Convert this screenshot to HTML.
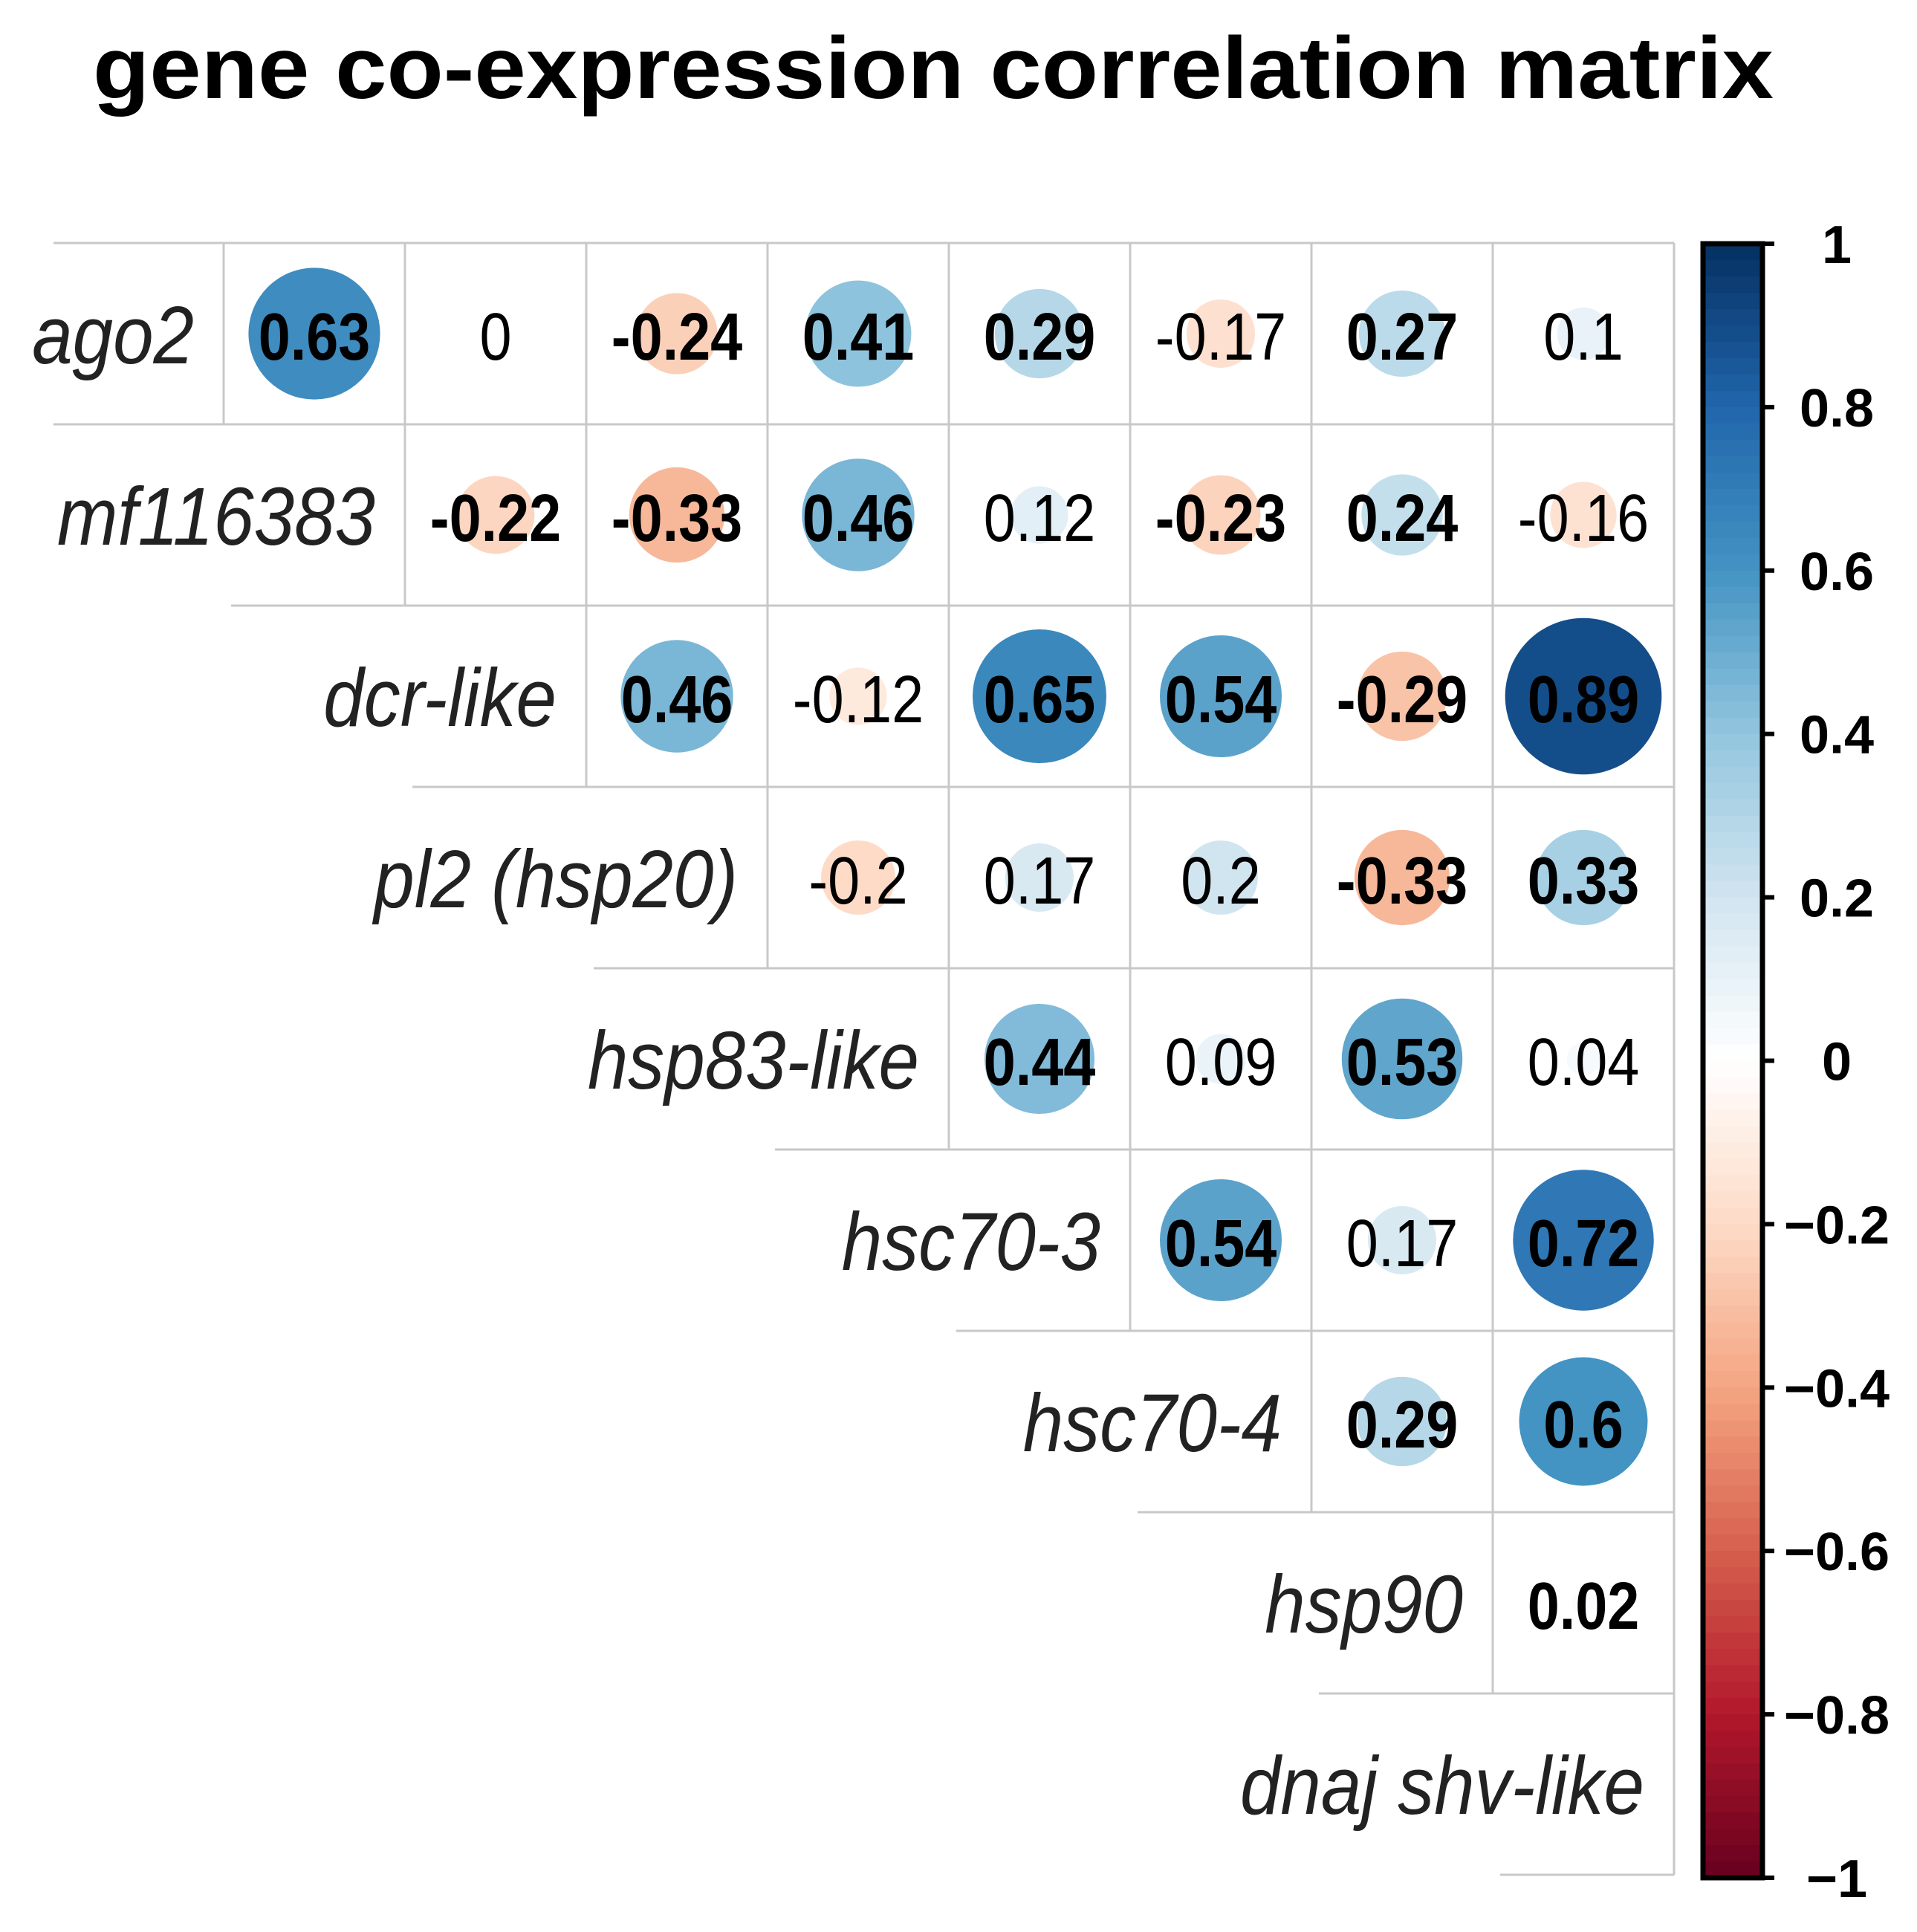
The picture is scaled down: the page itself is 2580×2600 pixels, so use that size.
<!DOCTYPE html>
<html><head><meta charset="utf-8"><style>
html,body{margin:0;padding:0;background:#fff}
svg{display:block}
</style></head><body>
<svg id="chart" width="2580" height="2600" viewBox="0 0 2580 2600" xmlns="http://www.w3.org/2000/svg">
<text x="125" y="132" font-family="Liberation Sans, sans-serif" font-weight="bold" font-size="118" textLength="2262" lengthAdjust="spacingAndGlyphs">gene co-expression correlation matrix</text>
<g id="grid"></g><g id="cells"></g><g id="labels"></g><g id="colorbar"></g>
</svg>
<script>
const genes = ["ago2","mf116383","dcr-like","pl2 (hsp20)","hsp83-like","hsc70-3","hsc70-4","hsp90","dnaj shv-like"];
const row0 = [0.63,0,-0.24,0.41,0.29,-0.17,0.27,0.1];
const row1 = [-0.22,-0.33,0.46,0.12,-0.23,0.24,-0.16];
const row2 = [0.46,-0.12,0.65,0.54,-0.29,0.89];
const row3 = [-0.2,0.17,0.2,-0.33,0.33];
const row4 = [0.44,0.09,0.53,0.04];
const row5 = [0.54,0.17,0.72];
const row6 = [0.29,0.6];
const row7 = [0.02];
const boldRow0 = [1,0,1,1,1,0,1,0];
const boldRow1 = [1,1,1,0,1,1,0];
const boldRow2 = [1,0,1,1,1,1];
const boldRow3 = [0,0,0,1,1];
const boldRow4 = [1,0,1,0];
const boldRow5 = [1,0,1];
const boldRow6 = [1,1];
const boldRow7 = [1];
const tickValues = [1,0.8,0.6,0.4,0.2,0,-0.2,-0.4,-0.6,-0.8,-1];
const tickLabels = ["1","0.8","0.6","0.4","0.2","0","\u22120.2","\u22120.4","\u22120.6","\u22120.8","\u22121"];

const rows = [row0,row1,row2,row3,row4,row5,row6,row7];
const bolds = [boldRow0,boldRow1,boldRow2,boldRow3,boldRow4,boldRow5,boldRow6,boldRow7];
const NS = "http://www.w3.org/2000/svg";
const X0 = 301, Y0 = 327, CW = 244, CH = 244, NC = 8, NR = 9;
const xAt = j => X0 + j*CW;
const yAt = i => Y0 + i*CH;
const pal = ["#67001F","#B2182B","#D6604D","#F4A582","#FDDBC7","#FFFFFF","#D1E5F0","#92C5DE","#4393C3","#2166AC","#053061"];
function hex(h){return [1,3,5].map(k=>parseInt(h.substr(k,2),16));}
function color(v){
  const t = (Math.max(-1,Math.min(1,v))+1)/2*(pal.length-1);
  const i = Math.min(pal.length-2, Math.floor(t)), f = t-i;
  const a = hex(pal[i]), b = hex(pal[i+1]);
  return "rgb("+a.map((c,k)=>Math.round(c+(b[k]-c)*f)).join(",")+")";
}
function mk(tag, attrs, parent){const e=document.createElementNS(NS,tag);for(const k in attrs)e.setAttribute(k,attrs[k]);parent.appendChild(e);return e;}
const grid = document.getElementById("grid"), cells = document.getElementById("cells"), labels = document.getElementById("labels"), cb = document.getElementById("colorbar");
const gc = "#c8c8c8", gw = 3;
for(let k=0;k<=NR;k++){
  const start = k<=1 ? 72 : xAt(k-2)+10;
  const l = mk("line",{x1:start,y1:yAt(k),x2:xAt(NC),y2:yAt(k),stroke:gc,"stroke-width":gw},grid);
  
  
}
for(let j=0;j<=NC;j++){
  const l = mk("line",{x1:xAt(j),y1:yAt(0),x2:xAt(j),y2:yAt(j+1),stroke:gc,"stroke-width":gw},grid);
  
  
}
rows.forEach((vals,i)=>{
  vals.forEach((v,k)=>{
    const j = i+k;
    const cx = xAt(j)+CW/2, cy = yAt(i)+CH/2;
    const r = Math.sqrt(Math.abs(v))*CW/2*0.915;
    if(r>0){
      const c = mk("circle",{cx:cx,cy:cy,r:r,fill:color(v)},cells);
      
      
    }
    const t = mk("text",{x:0,y:33,transform:"translate("+cx+","+(cy+2)+") scale(0.86,1)","text-anchor":"middle","font-family":"Liberation Sans, sans-serif","font-size":90,"font-weight":bolds[i][k]?"bold":"normal",fill:"#000"},cells);
    t.textContent = String(v);
    
    
  });
});
genes.forEach((g,i)=>{
  const t = mk("text",{x:0,y:40,transform:"translate("+(xAt(i)-40)+","+(yAt(i)+CH/2)+") scale(0.89,1)","text-anchor":"end","font-family":"Liberation Sans, sans-serif","font-style":"italic","font-size":110,fill:"#222"},labels);
  t.textContent = g;
  
  
});
const CBX = 2292, CBW = 80, CBT = 328, CBB = 2527;
const cbY = v => CBT + (1-v)/2*(CBB-CBT);
const N = 100;
for(let s=0;s<N;s++){
  const v1 = 1 - s*2/N;
  const r = mk("rect",{x:CBX,y:cbY(v1),width:CBW,height:(CBB-CBT)/N+1,fill:color(v1-1/N)},cb);
  
  
}
const border = mk("rect",{x:CBX,y:CBT,width:CBW,height:CBB-CBT,fill:"none",stroke:"#000","stroke-width":7},cb);


tickValues.forEach((v,k)=>{
  const y = cbY(v);
  const l = mk("line",{x1:CBX+CBW,y1:y,x2:CBX+CBW+16,y2:y,stroke:"#000","stroke-width":6},cb);
  
  
  const t = mk("text",{x:2472,y:y+26,"text-anchor":"middle","font-family":"Liberation Sans, sans-serif","font-weight":"bold","font-size":72,fill:"#000"},cb);
  t.textContent = tickLabels[k];
  
  
});
</script>
</body></html>
